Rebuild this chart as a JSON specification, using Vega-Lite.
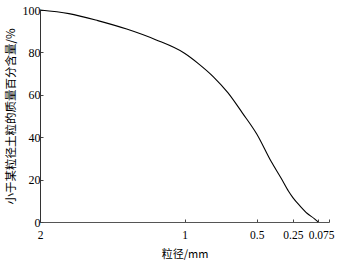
{
  "$schema": "https://vega.github.io/schema/vega-lite/v6.json",
  "width": 289,
  "height": 212,
  "autosize": "none",
  "padding": {"left": 40, "top": 10, "right": 13, "bottom": 39},
  "background": "white",
  "config": {"view": {"stroke": null}},
  "data": {"values": [
    {"d": 2, "p": 100},
    {"d": 1.8, "p": 98.3},
    {"d": 1.6, "p": 95},
    {"d": 1.4, "p": 91},
    {"d": 1.2, "p": 86},
    {"d": 1.0, "p": 79.6},
    {"d": 0.9, "p": 74.5},
    {"d": 0.8, "p": 68.5},
    {"d": 0.7, "p": 61},
    {"d": 0.6, "p": 51.5},
    {"d": 0.5, "p": 41.5},
    {"d": 0.4, "p": 28.5},
    {"d": 0.33, "p": 20.5},
    {"d": 0.28, "p": 14.5},
    {"d": 0.25, "p": 11.5},
    {"d": 0.2, "p": 7.5},
    {"d": 0.15, "p": 4},
    {"d": 0.1, "p": 1.5},
    {"d": 0.075, "p": 0}
  ]},
  "mark": {"type": "line", "color": "black", "strokeWidth": 1.1, "interpolate": "monotone"},
  "encoding": {
    "x": {
      "field": "d", "type": "quantitative",
      "scale": {"domain": [2, 0], "nice": false, "zero": false},
      "axis": {
        "title": "粒径/mm",
        "titleFont": "Noto Sans CJK SC", "titleFontSize": 11, "titleFontWeight": "normal", "titleColor": "black",
        "titlePadding": 8,
        "values": [2, 1, 0.5, 0.25, 0.075, 0],
        "format": "~g",
        "labelExpr": "datum.value == 0 ? '' : datum.label",
        "labelFont": "Liberation Serif", "labelFontSize": 11.5, "labelColor": "black",
        "labelPadding": 10,
        "labelOffset": {"condition": {"test": "datum.value == 0.075", "value": 3}, "value": 0},
        "tickSize": -3, "tickColor": "#444", "domainColor": "#555", "grid": false,
        "labelFlush": false, "labelOverlap": false
      }
    },
    "y": {
      "field": "p", "type": "quantitative",
      "scale": {"domain": [0, 100], "nice": false},
      "axis": {
        "title": "小于某粒径土粒的质量百分含量/%",
        "titleFont": "Noto Sans CJK SC", "titleFontSize": 11.5, "titleFontWeight": "normal", "titleColor": "black",
        "titlePadding": 6,
        "values": [0, 20, 40, 60, 80, 100],
        "labelFont": "Liberation Serif", "labelFontSize": 12, "labelColor": "black",
        "labelPadding": 3,
        "tickSize": -3, "tickColor": "#444", "domainColor": "#333", "grid": false
      }
    }
  }
}
